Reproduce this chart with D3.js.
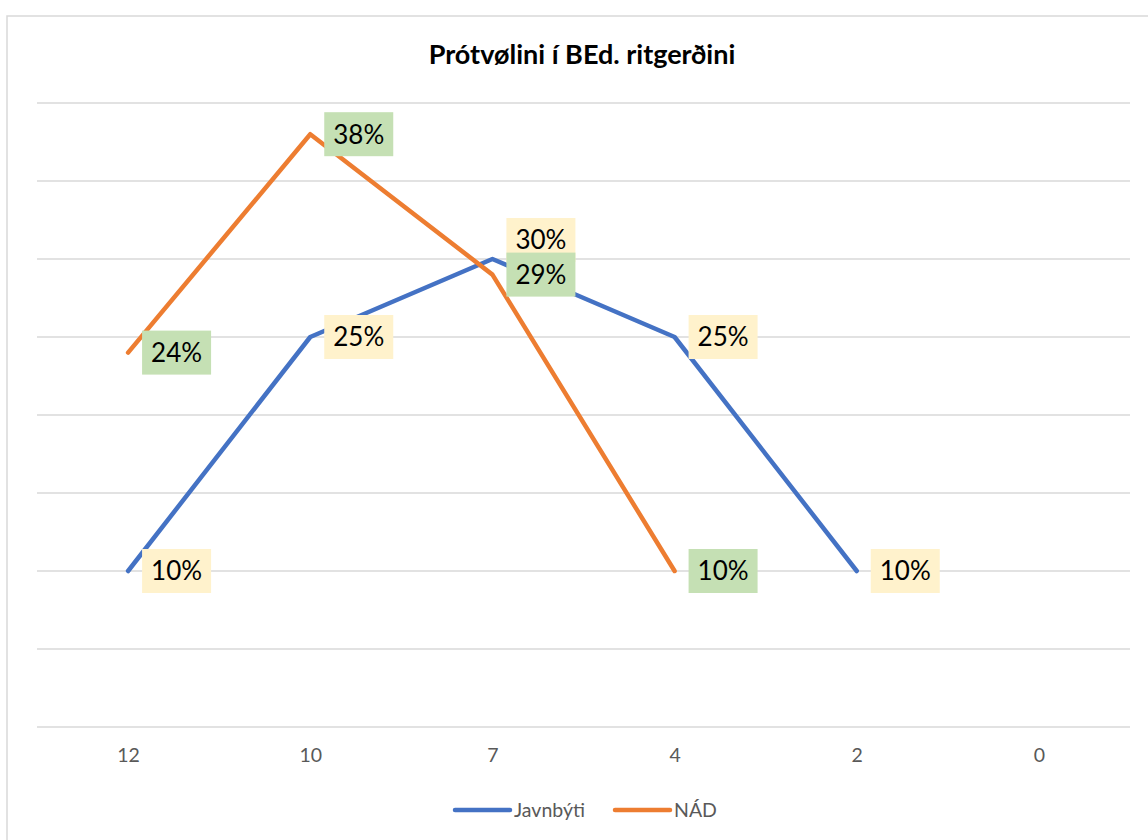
<!DOCTYPE html>
<html>
<head>
<meta charset="utf-8">
<script src="https://cdn.jsdelivr.net/npm/d3@7"></script>
<style>
  body { margin: 0; background: #fff; }
  svg { display: block; font-family: Lato, "Noto Sans", sans-serif; }
</style>
</head>
<body>
<svg width="1148" height="840"></svg>
<script>
const title = "Prótvølini í BEd. ritgerðini"
const categories = ["12", "10", "7", "4", "2", "0"]
const seriesNames = ["Javnbýti", "NÁD"]
const javnbyti = [0.10, 0.25, 0.30, 0.25, 0.10, null]
const nad = [0.24, 0.38, 0.29, 0.10, null, null]
const yTicks = [0, 0.05, 0.10, 0.15, 0.20, 0.25, 0.30, 0.35, 0.40]

const colors = ["#4472C4", "#ED7D31"]
const labelFill = ["#FFF2CC", "#C5E0B4"]

const svg = d3.select("svg")

// chart frame (runs off the right/bottom edge like the original)
svg.append("rect")
  .attr("x", 7).attr("y", 16)
  .attr("width", 1170).attr("height", 860)
  .attr("fill", "#fff")
  .attr("stroke", "#d9d9d9").attr("stroke-width", 1.5)

const x = d3.scalePoint().domain(categories).range([37, 1130]).padding(0.5)
const y = d3.scaleLinear().domain([0, 0.4]).range([727, 103])

svg.append("text")
  .attr("x", 582).attr("y", 64)
  .attr("text-anchor", "middle")
  .attr("font-weight", "bold")
  .attr("font-size", 27)
  .attr("fill", "#000")
  .text(title)

// gridlines
svg.append("g")
  .selectAll("line")
  .data(yTicks)
  .join("line")
  .attr("x1", 37).attr("x2", 1130)
  .attr("y1", d => y(d)).attr("y2", d => y(d))
  .attr("stroke", "#d9d9d9").attr("stroke-width", 1.5)

// category labels
const xAxis = svg.append("g")
  .attr("transform", "translate(0,727)")
  .call(d3.axisBottom(x).tickSize(0).tickPadding(21))
xAxis.select(".domain").remove()
xAxis.selectAll("text")
  .attr("font-family", "Lato, 'Noto Sans', sans-serif")
  .attr("font-size", 19.5)
  .attr("fill", "#595959")

const series = [javnbyti, nad].map((vals, i) => ({
  name: seriesNames[i],
  color: colors[i],
  fill: labelFill[i],
  points: vals.map((v, j) => ({ cat: categories[j], v: v })).filter(p => p.v != null)
}))

const line = d3.line().x(d => x(d.cat)).y(d => y(d.v))

svg.append("g")
  .selectAll("path")
  .data(series)
  .join("path")
  .attr("d", d => line(d.points))
  .attr("fill", "none")
  .attr("stroke", d => d.color)
  .attr("stroke-width", 4.5)
  .attr("stroke-linecap", "round")
  .attr("stroke-linejoin", "round")

// data labels, Excel style boxes to the right of each point
// the Javnbýti label at "7" is pushed up so it doesn't sit on the NÁD one
const nudge = { "Javnbýti|7": -19 }
series.forEach(s => {
  const g = svg.append("g")
  s.points.forEach(p => {
    const cy = y(p.v) + (nudge[s.name + "|" + p.cat] || 0)
    const lbl = g.append("g")
    const r = lbl.append("rect")
      .attr("x", x(p.cat) + 14).attr("y", cy - 22)
      .attr("height", 44)
      .attr("fill", s.fill)
    const t = lbl.append("text")
      .attr("x", x(p.cat) + 23).attr("y", cy)
      .attr("dy", "0.36em")
      .attr("font-size", 26)
      .attr("fill", "#000")
      .text(d3.format(".0%")(p.v))
    r.attr("width", t.node().getComputedTextLength() + 18)
  })
})

// legend
const legend = svg.append("g")
const lx = [455, 615]
series.forEach((s, i) => {
  legend.append("line")
    .attr("x1", lx[i]).attr("x2", lx[i] + 55)
    .attr("y1", 810).attr("y2", 810)
    .attr("stroke", s.color).attr("stroke-width", 4.5)
    .attr("stroke-linecap", "round")
  legend.append("text")
    .attr("x", lx[i] + 59).attr("y", 810)
    .attr("dy", "0.36em")
    .attr("font-size", 19.5)
    .attr("fill", "#595959")
    .text(s.name)
})
</script>
</body>
</html>
